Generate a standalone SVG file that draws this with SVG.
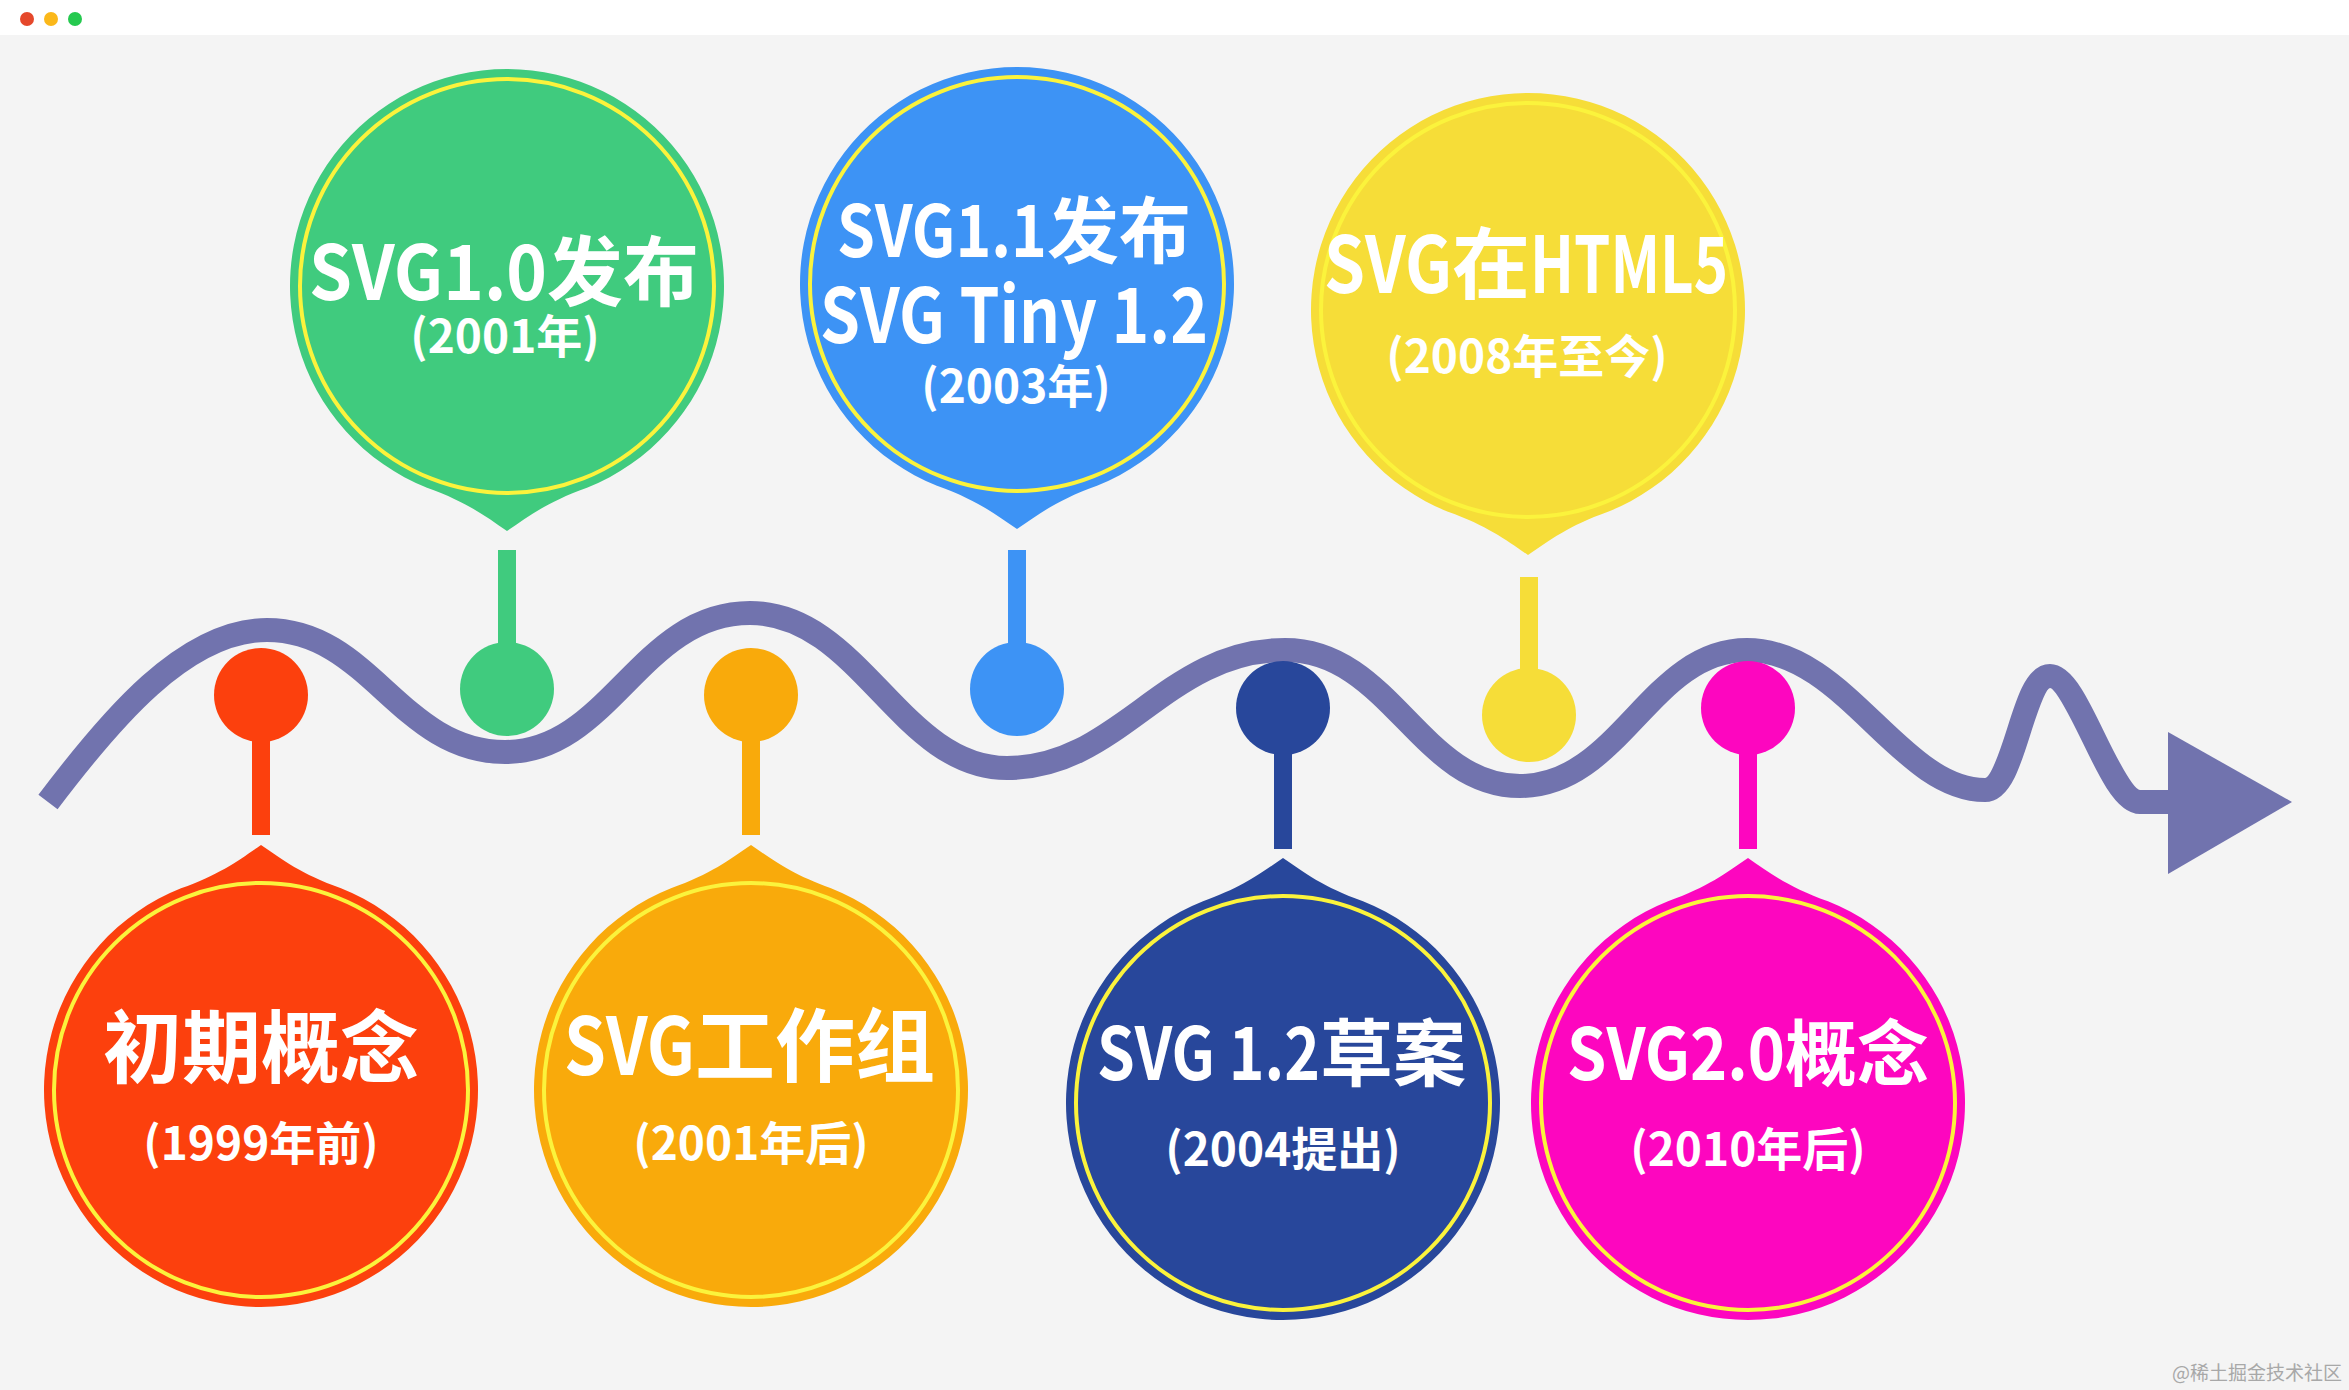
<svg xmlns="http://www.w3.org/2000/svg" xmlns:xlink="http://www.w3.org/1999/xlink" width="2349" height="1390" viewBox="0 0 2349 1390">
<style>
.lbl{font-family:"Noto Sans CJK SC","Noto Sans",sans-serif;font-weight:700;fill:#ffffff}
.sub{font-size:46px;text-anchor:middle}
.ring{fill:none;stroke:#FBF33C;stroke-width:4}
.wm{font-family:"Noto Sans CJK SC",sans-serif;font-size:19px;fill:#A8A8A8}
</style>
<defs>
<path id="dropDown" d="M0,-245 C-22,-230 -40,-216 -80,-201.7 A217 217 0 1 0 80,-201.7 C40,-216 22,-230 0,-245 Z"/>
</defs>
<rect x="0" y="0" width="2349" height="1390" fill="#F4F4F4"/>
<rect x="0" y="0" width="2349" height="35" fill="#FFFFFF"/>
<g id="window-dots">
<circle cx="27" cy="19" r="7" fill="#E5482B"/>
<circle cx="51" cy="19" r="7" fill="#FBB81A"/>
<circle cx="75" cy="19" r="7" fill="#25C94F"/>
</g>
<g id="connectors">
<path d="M48,802 C110,720 185,630 267,630 C370,630 400,752 505,752 C610,752 640,613 750,613 C860,613 900,768 1007,768 C1120,768 1165,650 1285,650 C1390,650 1420,786 1520,786 C1620,786 1650,650 1747,650 C1845,650 1900,790 1985,790 C2015,790 2022,676 2050,676 C2078,676 2110,802 2140,802 L2175,802" fill="none" stroke="#7173AE" stroke-width="24"/>
<polygon points="2168,732 2292,802 2168,874" fill="#7173AE"/>
</g>
<g id="node-1999" fill="#FC400D">
<circle cx="261" cy="695" r="47"/>
<rect x="252" y="695" width="18" height="140"/>
<use xlink:href="#dropDown" transform="translate(261,1090)"/>
<circle class="ring" cx="261" cy="1090" r="207"/>
<text class="lbl" x="261" y="1077" font-size="79" text-anchor="middle">初期概念</text>
<text class="lbl sub" x="261" y="1160">(1999年前)</text>
</g>
<g id="node-2001a" fill="#40CB7E">
<circle cx="507" cy="689" r="47"/>
<rect x="498" y="550" width="18" height="139"/>
<use xlink:href="#dropDown" transform="translate(507,286) scale(1,-1)"/>
<circle class="ring" cx="507" cy="286" r="207"/>
<text class="lbl" x="309" y="300" font-size="76"><tspan textLength="238" lengthAdjust="spacingAndGlyphs">SVG1.0</tspan>发布</text>
<text class="lbl sub" x="505" y="353">(2001年)</text>
</g>
<g id="node-2001b" fill="#F9AA0B">
<circle cx="751" cy="695" r="47"/>
<rect x="742" y="695" width="18" height="140"/>
<use xlink:href="#dropDown" transform="translate(751,1090)"/>
<circle class="ring" cx="751" cy="1090" r="207"/>
<text class="lbl" x="564" y="1075" font-size="80"><tspan textLength="131" lengthAdjust="spacingAndGlyphs">SVG</tspan>工作组</text>
<text class="lbl sub" x="751" y="1160">(2001年后)</text>
</g>
<g id="node-2003" fill="#3D93F5">
<circle cx="1017" cy="689" r="47"/>
<rect x="1008" y="550" width="18" height="139"/>
<use xlink:href="#dropDown" transform="translate(1017,284) scale(1,-1)"/>
<circle class="ring" cx="1017" cy="284" r="207"/>
<text class="lbl" x="837" y="257" font-size="72"><tspan textLength="210" lengthAdjust="spacingAndGlyphs">SVG1.1</tspan>发布</text>
<text class="lbl" x="820" y="343" font-size="76"><tspan textLength="388" lengthAdjust="spacingAndGlyphs">SVG Tiny 1.2</tspan></text>
<text class="lbl sub" x="1016" y="403">(2003年)</text>
</g>
<g id="node-2004" fill="#28479B">
<circle cx="1283" cy="708" r="47"/>
<rect x="1274" y="708" width="18" height="141"/>
<use xlink:href="#dropDown" transform="translate(1283,1103)"/>
<circle class="ring" cx="1283" cy="1103" r="207"/>
<text class="lbl" x="1097" y="1080" font-size="73"><tspan textLength="223" lengthAdjust="spacingAndGlyphs">SVG 1.2</tspan>草案</text>
<text class="lbl sub" x="1283" y="1166">(2004提出)</text>
</g>
<g id="node-2008" fill="#F6DD38">
<circle cx="1529" cy="715" r="47"/>
<rect x="1520" y="577" width="18" height="138"/>
<use xlink:href="#dropDown" transform="translate(1528,310) scale(1,-1)"/>
<circle class="ring" cx="1528" cy="310" r="207" stroke="#FCF04C"/>
<text class="lbl" x="1324" y="293" font-size="78"><tspan textLength="128" lengthAdjust="spacingAndGlyphs">SVG</tspan>在<tspan textLength="198" lengthAdjust="spacingAndGlyphs">HTML5</tspan></text>
<text class="lbl sub" x="1527" y="373">(2008年至今)</text>
</g>
<g id="node-2010" fill="#FD06BF">
<circle cx="1748" cy="708" r="47"/>
<rect x="1739" y="708" width="18" height="141"/>
<use xlink:href="#dropDown" transform="translate(1748,1103)"/>
<circle class="ring" cx="1748" cy="1103" r="207"/>
<text class="lbl" x="1567" y="1080" font-size="72"><tspan textLength="218" lengthAdjust="spacingAndGlyphs">SVG2.0</tspan>概念</text>
<text class="lbl sub" x="1748" y="1166">(2010年后)</text>
</g>
<text class="wm" x="2342" y="1380" text-anchor="end">@稀土掘金技术社区</text>
</svg>
